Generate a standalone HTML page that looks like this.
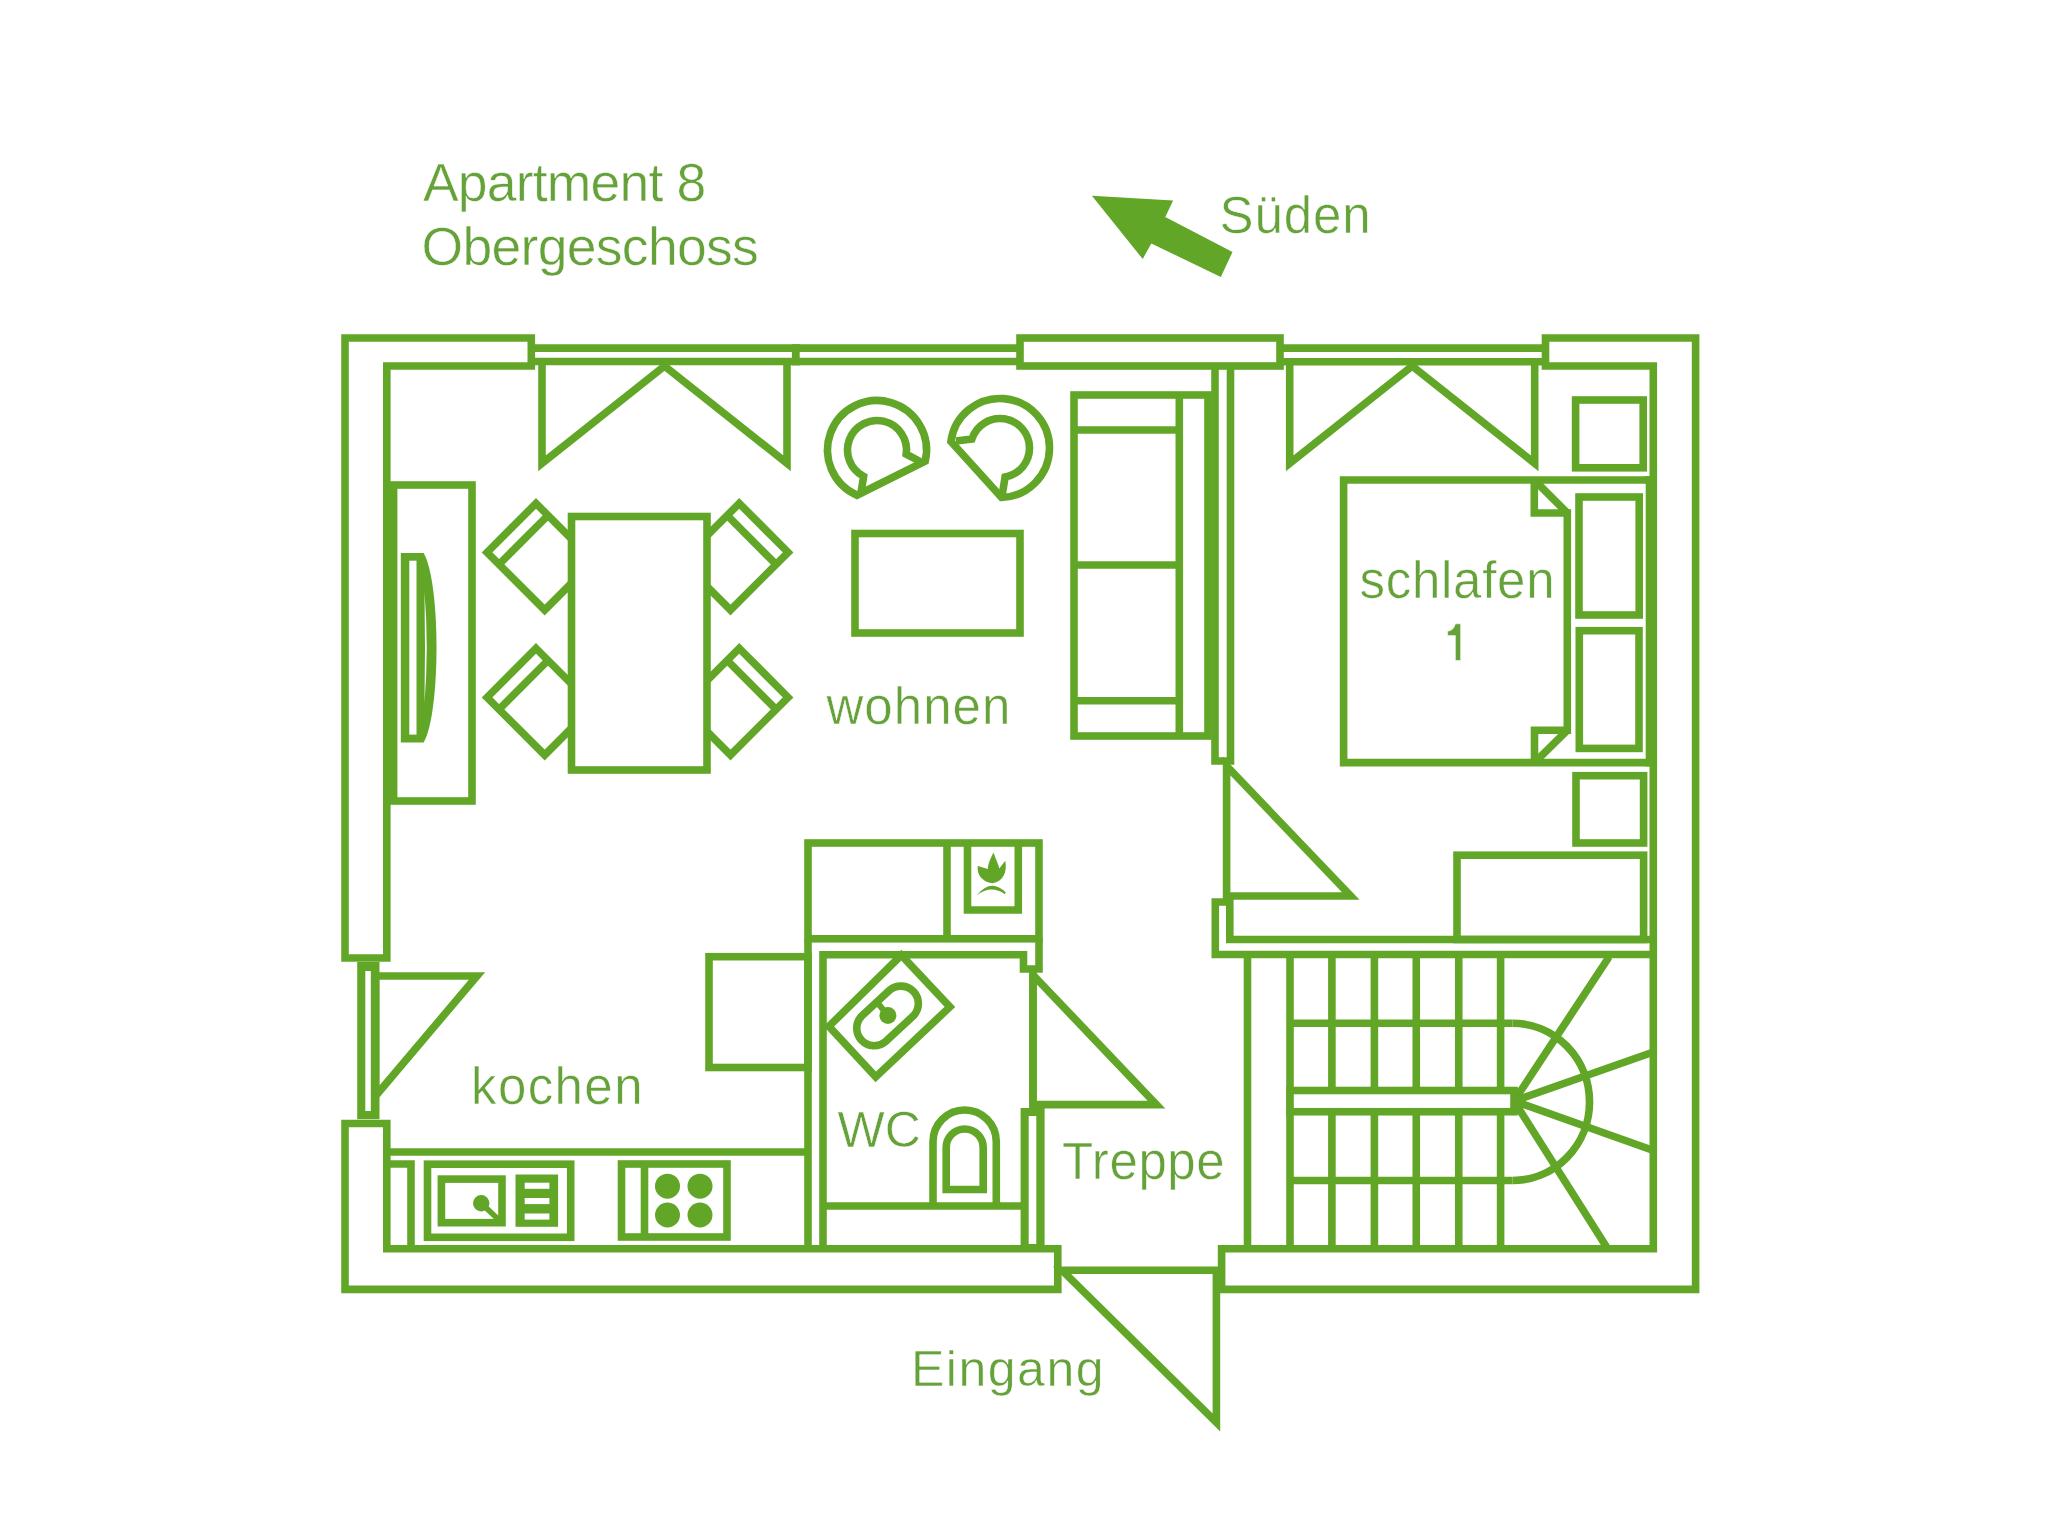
<!DOCTYPE html>
<html><head><meta charset="utf-8"><style>html,body{margin:0;padding:0;background:#fff;overflow:hidden}svg{display:block}text{font-family:"Liberation Sans",sans-serif}</style></head>
<body>
<svg width="2048" height="1538" viewBox="0 0 2048 1538">
<rect width="2048" height="1538" fill="#ffffff"/>
<g fill="none" stroke="#62a628" stroke-width="7.6" stroke-linejoin="miter" stroke-miterlimit="10">
<path d="M345,338 H531.3 V366 H386.8 V958 H345 Z" />
<path d="M1545.5,338 H1695.6 V1289.4 H1221.6 V1248.8 H1653.3 V366 H1545.5 Z" />
<path d="M345,1123.5 H386.8 V1248.8 H1057.8 V1289.4 H345 Z" />
<line x1="531.3" y1="348.1" x2="1020" y2="348.1"/>
<line x1="531.3" y1="361.5" x2="1020" y2="361.5"/>
<rect x="791.9" y="344.2" width="7.80" height="21.20" fill="#62a628" stroke="none"/>
<rect x="1020" y="338" width="260.00" height="28.00" fill="#fff"/>
<line x1="1280" y1="348.1" x2="1545.5" y2="348.1"/>
<line x1="1280" y1="361.8" x2="1545.5" y2="361.8"/>
<rect x="357.2" y="962" width="22.30" height="157.20" fill="#62a628" stroke="none"/>
<rect x="365.3" y="971" width="5.50" height="140.00" fill="#fff" stroke="none"/>
<path d="M375.5,976 H477 L375.5,1096 Z" />
<line x1="386.8" y1="1152" x2="808" y2="1152"/>
<path d="M387,1164 H411 V1249" />
<rect x="427.5" y="1164.2" width="143.20" height="73.10" fill="none"/>
<rect x="441.4" y="1179.1" width="60.60" height="43.60" fill="none"/>
<rect x="515.5" y="1174.5" width="42.60" height="52.30" fill="#62a628" stroke="none"/>
<rect x="524.7" y="1182.7" width="24.70" height="6.10" fill="#fff" stroke="none"/>
<rect x="524.7" y="1198" width="24.70" height="6.10" fill="#fff" stroke="none"/>
<rect x="524.7" y="1213.5" width="24.70" height="6.10" fill="#fff" stroke="none"/>
<circle cx="481.2" cy="1203.2" r="8.2" fill="#62a628" stroke="none"/>
<line x1="481.2" y1="1203.2" x2="499" y2="1220" stroke-width="5.6"/>
<rect x="621.5" y="1164" width="105.50" height="73.00" fill="none"/>
<line x1="644.5" y1="1164" x2="644.5" y2="1237"/>
<circle cx="667.5" cy="1186.2" r="12.5" fill="#62a628" stroke="none"/>
<circle cx="667.5" cy="1215" r="12.5" fill="#62a628" stroke="none"/>
<circle cx="700" cy="1186.2" r="12.5" fill="#62a628" stroke="none"/>
<circle cx="700" cy="1215" r="12.5" fill="#62a628" stroke="none"/>
<rect x="709" y="956.7" width="99.00" height="110.80" fill="#fff"/>
<rect x="808" y="843" width="231.00" height="95.80" fill="#fff"/>
<line x1="947" y1="843" x2="947" y2="938.8"/>
<path d="M967.5,843 V910 H1018.3 V843" />
<g fill="#62a628" stroke="none"><path d="M993.5,852.5 C995.5,859 998.5,864 999.3,868.5 L1005.3,860.8 C1007.5,872 1003,882 992.4,883.3 C982,882 976.5,874 977.8,866 L987.8,869 C988,863.5 991,857.5 993.5,852.5 Z"/><path d="M976.6,895.5 Q991,877.8 1005.8,892.6 L1004.8,894.2 Q991,884.4 976.6,895.5 Z"/></g>
<line x1="808" y1="938.8" x2="808" y2="1248.8"/>
<path d="M823,1248.8 V954.7 H1023.5 V969 H1039 V938.8" />
<line x1="1033" y1="969" x2="1033" y2="1108"/>
<rect x="1020.6" y="1108" width="24.00" height="144.00" fill="#62a628" stroke="none"/>
<rect x="1028.7" y="1116" width="7.60" height="128.00" fill="#fff" stroke="none"/>
<line x1="823" y1="1206" x2="1024.6" y2="1206"/>
<path d="M901.3,955.2 L949.9,1006.9 L875.7,1076.9 L828.9,1026.4 Z" />
<path d="M889.6,990.2 A17.5,17.5 0 0 1 913.4,1015.8 L885.5,1041.6 A17.5,17.5 0 0 1 861.7,1016 Z" />
<circle cx="887.9" cy="1015.4" r="8.5" fill="#62a628" stroke="none"/>
<line x1="887.9" y1="1015.4" x2="876" y2="1001" stroke-width="6"/>
<path d="M933,1206 V1141.65 A31.65,31.65 0 0 1 996.3,1141.65 V1206" />
<path d="M946.2,1189.5 V1147.5 A18.5,18.5 0 0 1 983.2,1147.5 V1189.5 Z" />
<path d="M1033,975 V1104.6 H1156.5 Z" />
<path d="M1062,1270.3 H1216.4 V1422.5 Z" />
<rect x="393.6" y="485" width="78.40" height="316.00" fill="none"/>
<path d="M400.8,552.9 H423.6 C440.8,582 440.8,713 423.6,742.5 H400.8 Z" fill="#62a628" stroke="none"/>
<rect x="409.3" y="560.7" width="7.20" height="173.90" fill="#fff" stroke="none"/>
<path d="M424.5,592 Q429,647.7 424.5,703 Q425.5,647.7 424.5,592 Z" fill="#fff" stroke="none"/>
<path d="M536.00,503.40 L593.60,561.00 L544.70,610.00 L487.10,552.40 Z" />
<line x1="548" y1="515.4" x2="499.1" y2="564.4"/>
<path d="M739.20,503.40 L681.60,561.00 L730.50,610.00 L788.10,552.40 Z" />
<line x1="727.2" y1="515.4" x2="776.1" y2="564.4"/>
<path d="M536.00,648.40 L593.60,706.00 L544.70,755.00 L487.10,697.40 Z" />
<line x1="548" y1="660.4" x2="499.1" y2="709.4"/>
<path d="M739.20,648.40 L681.60,706.00 L730.50,755.00 L788.10,697.40 Z" />
<line x1="727.2" y1="660.4" x2="776.1" y2="709.4"/>
<rect x="571.5" y="516.5" width="135.50" height="253.50" fill="#fff"/>
<path d="M542,361.5 V463.3 L664.5,366 L787,463.3 V361.5" />
<path d="M1289.7,361.5 V463.3 L1412.2,366 L1534.7,463.3 V361.5" />
<path d="M856.96,495.26 A49.5,49.5 0 1 1 925.25,461.07 Z" />
<path d="M861,493 L863.61,476.28 A29.5,29.5 0 1 1 906.21,454.11 L921,462" />
<path d="M950.94,441.43 A49.5,49.5 0 1 1 1001.58,497.47 Z" />
<path d="M956,441 L971.93,438.93 A29.5,29.5 0 1 1 1005.12,477.05 L1002,496" />
<rect x="855" y="533.5" width="165.00" height="99.50" fill="none"/>
<rect x="1074" y="395" width="134.00" height="341.00" fill="none"/>
<line x1="1179.3" y1="395" x2="1179.3" y2="736"/>
<line x1="1074" y1="430" x2="1179.3" y2="430"/>
<line x1="1074" y1="565" x2="1179.3" y2="565"/>
<line x1="1074" y1="700.7" x2="1179.3" y2="700.7"/>
<path d="M1215,366 V761 H1230.5 V366" />
<path d="M1653.3,954.5 H1215.3 V902 H1229.8 V939.5 H1653.3" />
<path d="M1226.6,766 V896 H1350.7 Z" />
<path d="M1649.5,480 H1343.6 V762.6 H1649.5" />
<line x1="1649.5" y1="476" x2="1649.5" y2="766.6"/>
<path d="M1534.3,480 V513 H1567.3 V730.2 H1534.5 V762.6" />
<line x1="1534.3" y1="480" x2="1567.3" y2="513"/>
<line x1="1534.5" y1="762.6" x2="1567.3" y2="730.2"/>
<rect x="1575.6" y="400" width="67.60" height="67.80" fill="none"/>
<rect x="1579" y="497" width="60.20" height="118.00" fill="none"/>
<rect x="1579.3" y="630.7" width="59.70" height="117.70" fill="none"/>
<rect x="1576" y="775.7" width="67.60" height="67.30" fill="none"/>
<rect x="1457" y="855.2" width="186.60" height="84.30" fill="none"/>
<line x1="1247.5" y1="954.5" x2="1247.5" y2="1248.8"/>
<line x1="1290" y1="954.5" x2="1290" y2="1248.8"/>
<line x1="1331.9" y1="954.5" x2="1331.9" y2="1248.8"/>
<line x1="1374.4" y1="954.5" x2="1374.4" y2="1248.8"/>
<line x1="1416.25" y1="954.5" x2="1416.25" y2="1248.8"/>
<line x1="1458.75" y1="954.5" x2="1458.75" y2="1248.8"/>
<line x1="1500.6" y1="954.5" x2="1500.6" y2="1248.8"/>
<line x1="1290" y1="1023.25" x2="1512.5" y2="1023.25"/>
<line x1="1290" y1="1180.5" x2="1512.5" y2="1180.5"/>
<rect x="1290" y="1090.5" width="224.00" height="21.25" fill="#fff"/>
<path d="M1512.5,1023.25 A77,78.6 0 0 1 1512.5,1180.5" />
<line x1="1514" y1="1101" x2="1609" y2="957"/>
<line x1="1514" y1="1101" x2="1652" y2="1052.5"/>
<line x1="1514" y1="1101" x2="1652" y2="1150"/>
<line x1="1514" y1="1101" x2="1607.5" y2="1248.5"/>
<polygon points="1091.9,195.8 1173.1,200.5 1165.3,216.9 1232.5,252 1220.8,277 1151.3,243.4 1142.7,259" fill="#62a628" stroke="none"/>
</g>
<g fill="#66a23a" stroke="#ffffff" stroke-width="0.5" font-family="Liberation Sans, sans-serif">
<text x="423.00" y="201.3" font-size="53.5" textLength="283.3">Apartment 8</text>
<text x="421.50" y="264.5" font-size="53.5" textLength="337.3">Obergeschoss</text>
<text x="1219.60" y="232.5" font-size="51" textLength="150.9">Süden</text>
<text x="826.40" y="723.7" font-size="51" textLength="184.0">wohnen</text>
<text x="1359.60" y="597.7" font-size="51" textLength="194.9">schlafen</text>
<text x="471.00" y="1104" font-size="51" textLength="171.5">kochen</text>
<text x="837.50" y="1146.5" font-size="50">WC</text>
<text x="1062.00" y="1179" font-size="51" textLength="162.7">Treppe</text>
<text x="911.00" y="1386" font-size="50" textLength="192.5">Eingang</text>
<path d="M1455.4,623.8 H1460.6 V660.5 H1455.4 V635.6 H1447.6 V631.3 Q1453.6,630.8 1455.4,623.8 Z"/>
</g>
</svg>
</body></html>
